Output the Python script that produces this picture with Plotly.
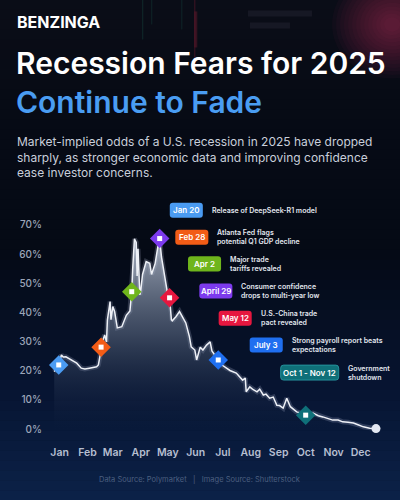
import plotly.graph_objects as go

# recession odds (Polymarket)
dates = [
    "2025-01-09", "2025-01-14", "2025-01-17", "2025-01-19", "2025-01-22", "2025-01-28",
    "2025-02-03", "2025-02-08", "2025-02-12", "2025-02-17", "2025-02-25", "2025-02-27",
    "2025-03-02", "2025-03-04", "2025-03-06", "2025-03-08", "2025-03-09", "2025-03-12",
    "2025-03-13", "2025-03-15", "2025-03-17", "2025-03-19", "2025-03-20", "2025-03-25",
    "2025-03-28", "2025-03-30", "2025-04-03", "2025-04-05", "2025-04-06", "2025-04-08",
    "2025-04-10", "2025-04-11", "2025-04-12", "2025-04-14", "2025-04-15", "2025-04-17",
    "2025-04-21", "2025-04-25", "2025-04-27", "2025-04-29", "2025-05-01", "2025-05-04",
    "2025-05-06", "2025-05-08", "2025-05-11", "2025-05-13", "2025-05-15", "2025-05-17",
    "2025-05-19", "2025-05-20", "2025-05-24", "2025-05-28", "2025-05-31", "2025-06-04",
    "2025-06-08", "2025-06-10", "2025-06-14", "2025-06-16", "2025-06-20", "2025-06-23",
    "2025-06-27", "2025-07-01", "2025-07-03", "2025-07-06", "2025-07-10", "2025-07-15",
    "2025-07-19", "2025-07-23", "2025-07-30", "2025-08-03", "2025-08-06", "2025-08-09",
    "2025-08-10", "2025-08-14", "2025-08-17", "2025-08-22", "2025-08-25", "2025-08-29",
    "2025-09-01", "2025-09-05", "2025-09-09", "2025-09-13", "2025-09-16", "2025-09-20",
    "2025-09-24", "2025-09-28", "2025-10-01", "2025-10-05", "2025-10-10", "2025-10-15",
    "2025-10-23", "2025-10-29", "2025-11-03", "2025-11-09", "2025-11-14", "2025-11-20",
    "2025-11-25", "2025-12-01", "2025-12-07", "2025-12-12", "2025-12-18", "2025-12-25",
    "2026-01-01",
]
odds = [
    19.7, 22.0, 25.4, 24.7, 24.8, 23.7,
    22.6, 20.9, 20.6, 20.9, 21.4, 22.0,
    28.1, 30.5, 32.3, 29.9, 37.4, 43.7,
    37.5, 42.0, 40.3, 36.5, 34.7, 35.1,
    37.4, 39.0, 40.5, 47.1, 54.5, 65.2,
    64.0, 52.5, 61.8, 46.0, 47.5, 53.0,
    57.4, 56.8, 53.0, 54.8, 56.8, 62.5,
    65.3, 59.0, 53.5, 50.4, 46.0, 45.0,
    37.5, 37.1, 38.5, 40.3, 38.5, 36.4,
    31.7, 28.2, 27.1, 23.7, 28.1, 27.1,
    28.8, 29.9, 26.8, 25.4, 23.7, 21.8,
    20.9, 20.1, 19.2, 17.8, 16.8, 17.5,
    12.8, 14.5, 13.7, 12.8, 13.7, 11.7,
    12.0, 10.6, 11.0, 8.2, 8.1, 7.2,
    10.6, 7.7, 6.9, 5.9, 5.5, 4.8,
    5.5, 4.6, 4.2, 3.6, 3.1, 3.1,
    2.5, 2.4, 2.1, 1.5, 0.8, 0.3,
    0.2,
]

# events
event_labels = ["Jan 20", "Feb 28", "Apr 2", "April 29", "May 12", "July 3", "Oct 1 - Nov 12"]
event_text = [
    "Release of DeepSeek-R1 model",
    "Atlanta Fed flags<br>potential Q1 GDP decline",
    "Major trade<br>tariffs revealed",
    "Consumer confidence<br>drops to multi-year low",
    "U.S.-China trade<br>pact revealed",
    "Strong payroll report beats<br>expectations",
    "Government<br>shutdown",
]
event_dates = ["2025-01-14", "2025-03-02", "2025-04-05", "2025-05-06", "2025-05-17", "2025-07-10", "2025-10-15"]
event_odds = [22.0, 28.1, 47.1, 65.3, 45.0, 23.7, 4.8]
event_colors = ["#4a9bf2", "#f25c16", "#6fb51c", "#7c3aed", "#e6173f", "#1f6ff0", "#0f7079"]

month_ticks = ["2025-%02d-15" % m for m in range(1, 13)]
month_names = ["Jan", "Feb", "Mar", "Apr", "May", "Jun", "Jul", "Aug", "Sep", "Oct", "Nov", "Dec"]
y_ticks = [0, 10, 20, 30, 40, 50, 60, 70]
y_tick_labels = ["0%", "10%", "20%", "30%", "40%", "50%", "60%", "70%"]

W, H = 400, 500
L, R, T, B = 47.4, 15.1, 219.2, 65.2
PW, PH = W - L - R, H - T - B


def px(x):
    return (x - L) / PW


def py(y):
    return (H - B - y) / PH


def rounded_box(x0, y0, x1, y1, r=3):
    # rounded rectangle path in paper coords, corners given in page pixels
    pts = [("M", x0 + r, y0), ("L", x1 - r, y0), ("Q", x1, y0, x1, y0 + r), ("L", x1, y1 - r),
           ("Q", x1, y1, x1 - r, y1), ("L", x0 + r, y1), ("Q", x0, y1, x0, y1 - r),
           ("L", x0, y0 + r), ("Q", x0, y0, x0 + r, y0)]
    out = []
    for p in pts:
        cmd, vals = p[0], p[1:]
        coords = []
        for i in range(0, len(vals), 2):
            coords.append("%.5f,%.5f" % (px(vals[i]), py(vals[i + 1])))
        out.append(cmd + " ".join(coords))
    return " ".join(out) + " Z"


FONT = "Inter, Roboto, sans-serif"

fig = go.Figure()

# glow under the line
fig.add_trace(go.Scatter(
    x=dates, y=odds, mode="lines", line=dict(color="rgba(220,230,255,0.18)", width=5),
    hoverinfo="skip", showlegend=False,
))
fig.add_trace(go.Scatter(
    x=dates, y=odds, mode="lines", fill="tozeroy",
    line=dict(color="#eef1f7", width=1.5),
    fillgradient=dict(type="vertical", colorscale=[
        [0, "rgba(30,45,75,0.0)"], [0.5, "rgba(120,135,160,0.45)"], [1, "rgba(200,210,228,0.8)"]]),
    showlegend=False,
))
# end dot
fig.add_trace(go.Scatter(
    x=dates[-1:], y=odds[-1:], mode="markers",
    marker=dict(size=9, color="#e3e8f2"), showlegend=False, cliponaxis=False,
))
# event diamonds
fig.add_trace(go.Scatter(
    x=event_dates, y=event_odds, mode="markers",
    marker=dict(symbol="diamond", size=15, color=event_colors, line=dict(width=0)),
    showlegend=False, cliponaxis=False,
))
fig.add_trace(go.Scatter(
    x=event_dates, y=event_odds, mode="markers",
    marker=dict(symbol="square", size=5, color="white"),
    showlegend=False, cliponaxis=False,
))

# background gradient bands
stops = [(0, (11, 14, 24)), (120, (7, 11, 21)), (250, (5, 10, 21)), (380, (7, 20, 48)), (500, (12, 34, 73))]
shapes = []
n = 50
for i in range(n):
    y0 = H * i / n
    y1 = H * (i + 1) / n
    ym = (y0 + y1) / 2
    for (a, ca), (b, cb) in zip(stops[:-1], stops[1:]):
        if a <= ym <= b:
            t = (ym - a) / (b - a)
            c = tuple(int(ca[k] + (cb[k] - ca[k]) * t) for k in range(3))
            break
    shapes.append(dict(type="rect", xref="paper", yref="paper", layer="below",
                       x0=px(0), x1=px(W), y0=py(y1 + 0.5), y1=py(y0),
                       fillcolor="rgb(%d,%d,%d)" % c, line=dict(width=0)))
# soft pink glow top right
for k in range(14):
    r = 60 - k * 4
    shapes.append(dict(type="circle", xref="paper", yref="paper", layer="below",
                       x0=px(392 - r), x1=px(392 + r), y0=py(25 + r * 0.9), y1=py(25 - r * 0.9),
                       fillcolor="rgba(225,50,100,0.035)", line=dict(width=0)))
# faint blurred screen text and candles in the backdrop
for x0, x1, yc in [(248, 312, 14), (250, 290, 26)]:
    shapes.append(dict(type="rect", xref="paper", yref="paper", layer="below",
                       x0=px(x0), x1=px(x1), y0=py(yc + 3), y1=py(yc - 3),
                       fillcolor="rgba(140,130,160,0.10)", line=dict(width=0)))
for x, y0, y1, w, col in [(143, 0, 40, 1, "rgba(40,150,120,0.22)"), (152, 0, 25, 1, "rgba(40,150,120,0.18)"),
                          (182, 0, 30, 1, "rgba(40,150,120,0.18)"), (195, 0, 75, 1, "rgba(200,40,70,0.28)"),
                          (196, 12, 48, 3, "rgba(200,40,70,0.22)")]:
    shapes.append(dict(type="line", xref="paper", yref="paper", layer="below",
                       x0=px(x), x1=px(x), y0=py(y1), y1=py(y0), line=dict(color=col, width=w)))

annotations = [
    dict(text="<b>BENZINGA</b>", x=px(15), y=py(23), xanchor="left", yanchor="middle",
         font=dict(family=FONT, size=16, color="white")),
    dict(text="Recession Fears for 2025", x=px(14), y=py(63), xanchor="left", yanchor="middle",
         font=dict(family=FONT, size=30, color="white", weight=600)),
    dict(text="Continue to Fade", x=px(14), y=py(102), xanchor="left", yanchor="middle",
         font=dict(family=FONT, size=30, color="#4a9df2", weight=600)),
    dict(text="Market-implied odds of a U.S. recession in 2025 have dropped<br>"
              "sharply, as stronger economic data and improving confidence<br>"
              "ease investor concerns.",
         x=px(15), y=py(157), xanchor="left", yanchor="middle", align="left",
         font=dict(family=FONT, size=12, color="#c9cfdb")),
    dict(text="Data Source: Polymarket   |   Image Source: Shutterstock", x=px(200), y=py(479),
         xanchor="center", yanchor="middle", font=dict(family=FONT, size=7.5, color="#4c5f80")),
]

# event label boxes and descriptions (pixel centres)
box_pos = [(186.5, 210.5), (192, 237.5), (204.7, 264), (216, 291), (235.3, 318.3), (266.3, 345), (309.7, 372.5)]
for lab, desc, col, (bx, by) in zip(event_labels, event_text, event_colors, box_pos):
    wide = len(lab) > 8
    bw = 58 if wide else 33
    shapes.append(dict(type="path", xref="paper", yref="paper", layer="above",
                       path=rounded_box(bx - bw / 2, by - 7.5, bx + bw / 2, by + 7.5),
                       fillcolor=col, line=dict(color="#2b9ea8" if wide else col, width=0.8 if wide else 0)))
    annotations.append(dict(
        text=lab, x=px(bx), y=py(by), xanchor="center", yanchor="middle",
        font=dict(family=FONT, size=8, color="white", weight=600),
    ))
    annotations.append(dict(
        text=desc, x=px(bx + bw / 2 + 7), y=py(by), xanchor="left", yanchor="middle", align="left",
        font=dict(family=FONT, size=7, color="#e2e6ee", weight=600),
    ))

for a in annotations:
    a.update(xref="paper", yref="paper", showarrow=False)

fig.update_layout(
    width=W, height=H, autosize=False,
    margin=dict(l=L, r=R, t=T, b=B),
    paper_bgcolor="#070c18", plot_bgcolor="rgba(0,0,0,0)",
    shapes=shapes, annotations=annotations,
    xaxis=dict(range=["2025-01-01", "2026-01-11"], tickvals=month_ticks, ticktext=month_names,
               showgrid=False, zeroline=False, showline=False, ticks="",
               ticklabelstandoff=9,
               tickfont=dict(family=FONT, size=10.5, color="#b6bfd1", weight=600)),
    yaxis=dict(range=[-2, 72], tickvals=y_ticks, ticktext=y_tick_labels,
               showgrid=False, zeroline=False, showline=False, ticks="",
               ticklabelstandoff=4,
               tickfont=dict(family=FONT, size=10, color="#9ba5b9", weight=500)),
)

fig.write_html("out.html", config={"displayModeBar": False},
               post_script="document.body.style.margin='0';")
